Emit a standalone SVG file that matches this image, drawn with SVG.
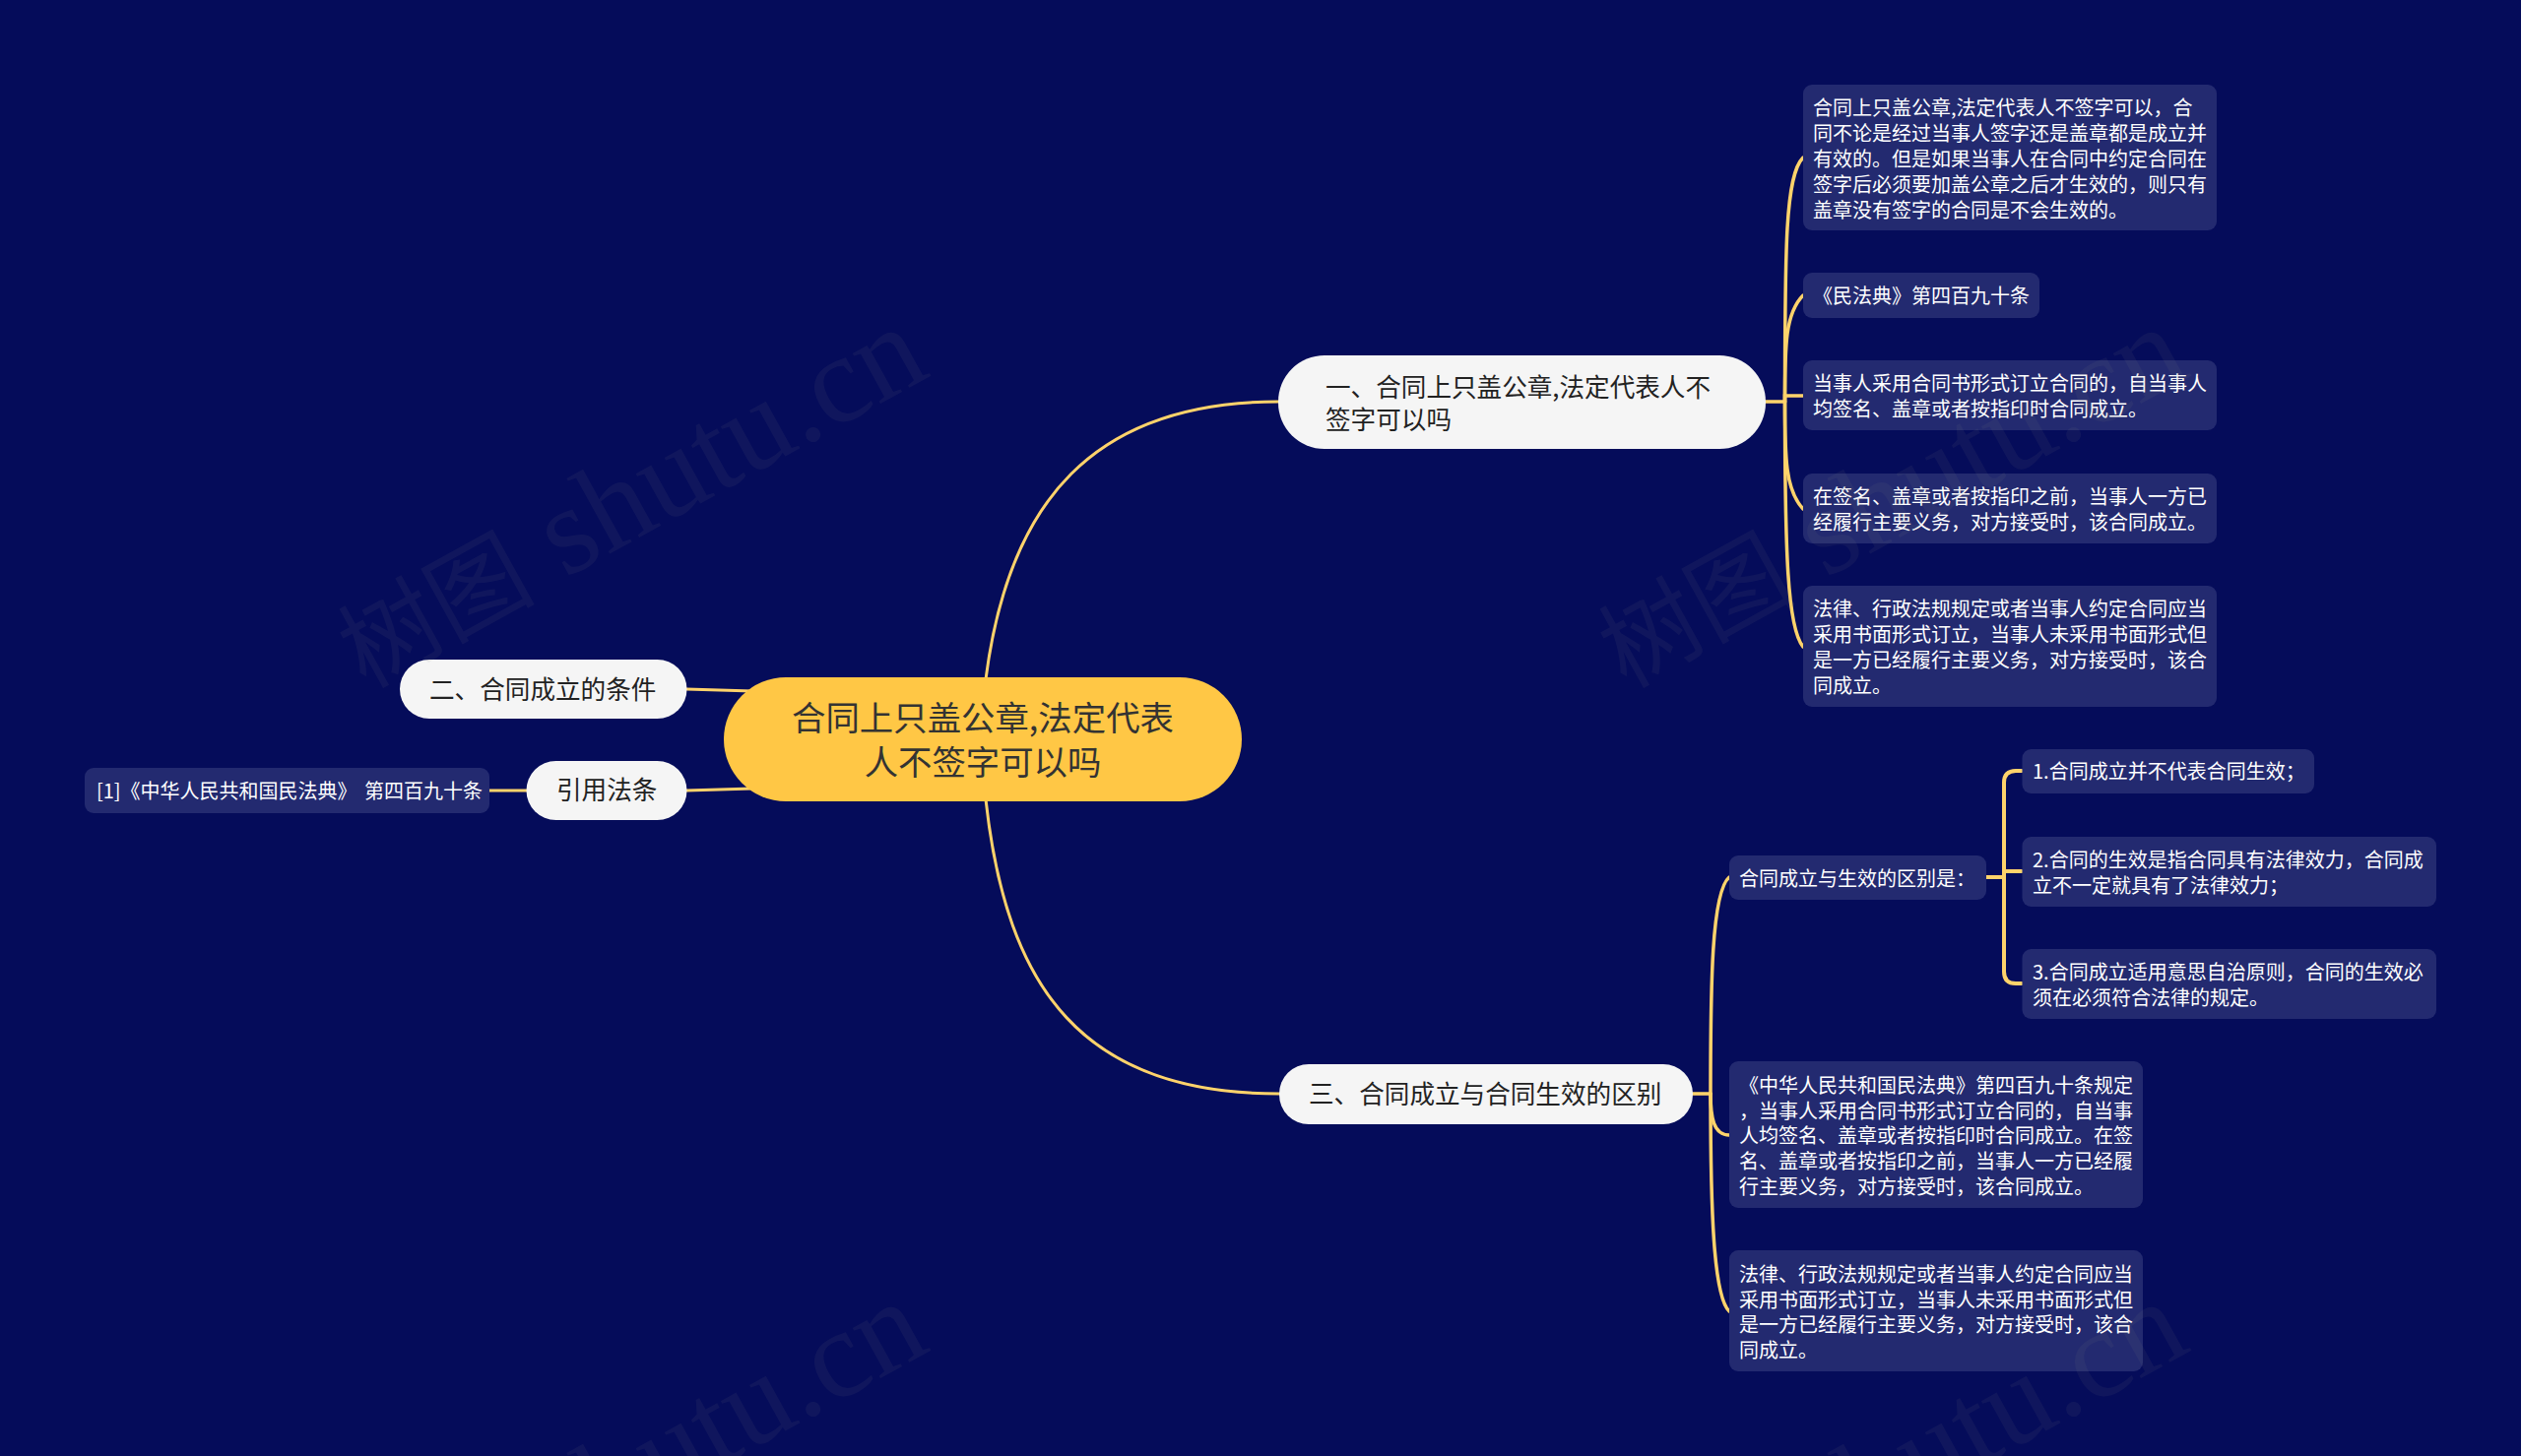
<svg xmlns="http://www.w3.org/2000/svg" width="2560" height="1479" viewBox="0 0 2560 1479">
<defs>
<style>
text{font-family:"Noto Sans CJK SC","Liberation Sans",sans-serif}
.leaf rect{fill:#232a70}
.leaf text{font-size:20px;fill:#fff}
.topic rect{fill:#f5f5f5}
.topic text{font-size:25.600px;fill:#222}
#root rect{fill:#ffc745}
#root text{font-size:34.400px;fill:#333;text-anchor:middle}
#connectors path{fill:none;stroke:#ffd36b;stroke-width:3.500;stroke-linecap:round}
#connectors .main{stroke-width:3}
#connectors .thick{stroke-width:4}
.wm{font-family:"Liberation Serif","Noto Sans CJK SC",serif;fill:#808080;opacity:.09}
.wm .cjk{font-family:"Noto Sans CJK SC",serif;font-size:100px}
.wm .lat{font-size:127px}
</style>
</defs>
<rect width="2560" height="1479" fill="#050c5a"/>
<g id="connectors">
<path class="main" d="M1001 690C1024 510 1110 408 1298 408"/>
<path class="main" d="M1001 812C1022 1005 1100 1111 1299 1111"/>
<path class="main" d="M697 700L765 702"/>
<path class="main" d="M697 803L765 801"/>
<path class="main" d="M497 803H535"/>
<path d="M1793 408H1812.500"/>
<path d="M1812.500 408C1812.500 250 1813 178 1831 160"/>
<path d="M1812.500 408C1812.500 350 1813 318 1831 300"/>
<path d="M1812.500 408V402H1831"/>
<path d="M1812.500 408C1812.500 465 1813 498 1831 517"/>
<path d="M1812.500 408C1812.500 560 1815 638 1831 657"/>
<path d="M1719 1111H1737"/>
<path d="M1737 1111C1737 1000 1738 906 1756 891"/>
<path d="M1737 1111C1737 1135 1740 1153 1756 1153"/>
<path d="M1737 1111C1737 1230 1740 1317 1756 1332"/>
<path class="thick" d="M2017 891H2035"/>
<path class="thick" d="M2053 783H2047Q2035 783 2035 795V987Q2035 999 2047 999H2053"/>
<path class="thick" d="M2035 885H2053"/>
</g>
<g id="root"><rect x="735" y="688" width="526" height="126" rx="63"/><text><tspan x="998" y="741.500">合同上只盖公章,法定代表</tspan><tspan x="998" y="786.500">人不签字可以吗</tspan></text></g>
<g id="topic1" class="topic"><rect x="1298" y="361" width="495" height="95" rx="47"/><text><tspan x="1346" y="402.500">一、合同上只盖公章,法定代表人不</tspan><tspan x="1346" y="436">签字可以吗</tspan></text></g>
<g id="topic2" class="topic"><rect x="406" y="670" width="291.500" height="60" rx="30"/><text x="436" y="710">二、合同成立的条件</text></g>
<g id="topic3" class="topic"><rect x="1299" y="1081" width="420" height="61" rx="30"/><text x="1329" y="1121">三、合同成立与合同生效的区别</text></g>
<g id="topic4" class="topic"><rect x="534.500" y="773" width="163" height="60" rx="30"/><text x="565" y="812">引用法条</text></g>
<g id="ref" class="leaf"><rect x="86" y="780" width="411" height="46" rx="9"/><text x="98" y="811" word-spacing="3">[1]《中华人民共和国民法典》 第四百九十条</text></g>
<g id="a1" class="leaf"><rect x="1831" y="86" width="420" height="148" rx="9"/><text><tspan x="1841" y="117">合同上只盖公章,法定代表人不签字可以，合</tspan><tspan x="1841" y="143">同不论是经过当事人签字还是盖章都是成立并</tspan><tspan x="1841" y="169">有效的。但是如果当事人在合同中约定合同在</tspan><tspan x="1841" y="194.500">签字后必须要加盖公章之后才生效的，则只有</tspan><tspan x="1841" y="220.500">盖章没有签字的合同是不会生效的。</tspan></text></g>
<g id="a2" class="leaf"><rect x="1831" y="277" width="240" height="46" rx="9"/><text x="1841" y="308">《民法典》第四百九十条</text></g>
<g id="a3" class="leaf"><rect x="1831" y="366" width="420" height="71" rx="9"/><text><tspan x="1841" y="397">当事人采用合同书形式订立合同的，自当事人</tspan><tspan x="1841" y="423">均签名、盖章或者按指印时合同成立。</tspan></text></g>
<g id="a4" class="leaf"><rect x="1831" y="481" width="420" height="71" rx="9"/><text><tspan x="1841" y="512">在签名、盖章或者按指印之前，当事人一方已</tspan><tspan x="1841" y="538">经履行主要义务，对方接受时，该合同成立。</tspan></text></g>
<g id="a5" class="leaf"><rect x="1831" y="595" width="420" height="123" rx="9"/><text><tspan x="1841" y="626">法律、行政法规规定或者当事人约定合同应当</tspan><tspan x="1841" y="652">采用书面形式订立，当事人未采用书面形式但</tspan><tspan x="1841" y="678">是一方已经履行主要义务，对方接受时，该合</tspan><tspan x="1841" y="703.500">同成立。</tspan></text></g>
<g id="c1" class="leaf"><rect x="1756" y="869" width="261" height="45" rx="9"/><text x="1766" y="900">合同成立与生效的区别是：</text></g>
<g id="d1" class="leaf"><rect x="2053.500" y="761" width="296.500" height="45" rx="9"/><text x="2064" y="791">1.合同成立并不代表合同生效；</text></g>
<g id="d2" class="leaf"><rect x="2053.500" y="850" width="420.500" height="71" rx="9"/><text><tspan x="2064" y="881">2.合同的生效是指合同具有法律效力，合同成</tspan><tspan x="2064" y="907">立不一定就具有了法律效力；</tspan></text></g>
<g id="d3" class="leaf"><rect x="2053.500" y="964" width="420.500" height="71" rx="9"/><text><tspan x="2064" y="995">3.合同成立适用意思自治原则，合同的生效必</tspan><tspan x="2064" y="1021">须在必须符合法律的规定。</tspan></text></g>
<g id="c2" class="leaf"><rect x="1756" y="1078" width="420" height="149" rx="9"/><text><tspan x="1766" y="1109.500">《中华人民共和国民法典》第四百九十条规定</tspan><tspan x="1766" y="1135.500">，当事人采用合同书形式订立合同的，自当事</tspan><tspan x="1766" y="1161">人均签名、盖章或者按指印时合同成立。在签</tspan><tspan x="1766" y="1186.500">名、盖章或者按指印之前，当事人一方已经履</tspan><tspan x="1766" y="1212.500">行主要义务，对方接受时，该合同成立。</tspan></text></g>
<g id="c3" class="leaf"><rect x="1756" y="1270" width="420" height="123" rx="9"/><text><tspan x="1766" y="1301.500">法律、行政法规规定或者当事人约定合同应当</tspan><tspan x="1766" y="1327.500">采用书面形式订立，当事人未采用书面形式但</tspan><tspan x="1766" y="1353">是一方已经履行主要义务，对方接受时，该合</tspan><tspan x="1766" y="1378.500">同成立。</tspan></text></g>
<g id="watermarks">
<text class="wm" transform="translate(371 700) rotate(-29)"><tspan class="cjk">树图</tspan><tspan class="lat"> shutu.cn</tspan></text>
<text class="wm" transform="translate(1651 700) rotate(-29)"><tspan class="cjk">树图</tspan><tspan class="lat"> shutu.cn</tspan></text>
<text class="wm" transform="translate(371 1690) rotate(-29)"><tspan class="cjk">树图</tspan><tspan class="lat"> shutu.cn</tspan></text>
<text class="wm" transform="translate(1651 1690) rotate(-29)"><tspan class="cjk">树图</tspan><tspan class="lat"> shutu.cn</tspan></text>
</g>
</svg>
